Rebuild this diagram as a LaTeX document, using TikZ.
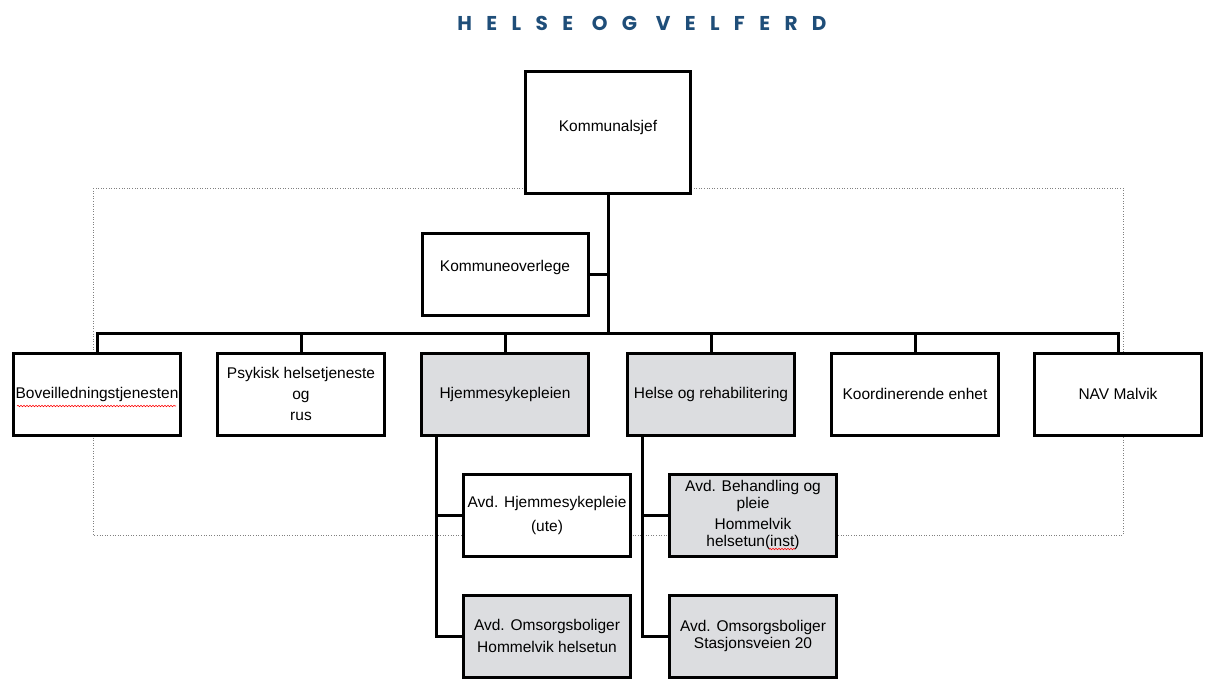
\documentclass[tikz,border=0pt]{standalone}
\usepackage{fontspec}
\setmainfont{Liberation Sans}
\newfontfamily\titlefont[LetterSpace=72]{Poppins}
\usetikzlibrary{decorations.pathmorphing}
\definecolor{titleblue}{HTML}{1F4E79}
\definecolor{unitgray}{HTML}{DCDDE0}
\begin{document}
\begin{tikzpicture}[x=1pt,y=-1pt,line join=miter,
  unit/.style={draw,line width=3pt,fill=white,minimum width=167pt,minimum height=82pt,
    inner sep=1pt,align=center,font=\fontsize{15.5}{22}\selectfont},
  grayunit/.style={unit,fill=unitgray},
  conn/.style={line width=3pt},
  frame/.style={draw=gray,line width=0.6pt,dotted},
  spell/.style={red,line width=0.6pt,decorate,decoration={snake,segment length=3pt,amplitude=0.7pt}}]
  \useasboundingbox (0,0) rectangle (1205,678);
  % title
  \node[text=titleblue,font=\titlefont\bfseries\fontsize{20}{20}\selectfont] (title) at (642,23) {HELSE OG VELFERD};
  % dotted frame
  \draw[frame] (93,188) rectangle (1123,535);
  % top
  \node[unit,minimum width=165pt,minimum height=122pt] (boss) at (608,132) {Kommunalsjef\\[-10pt]};
  \node[unit,minimum width=166pt] (overlege) at (505,274) {Kommuneoverlege\\[-6pt]};
  \coordinate (bus) at (608,333);
  % units
  \node[unit] (bo) at (97,394) {Boveilledningstjenesten};
  \node[unit] (psy) at (301,394) {Psykisk helsetjeneste\\[-1pt]og\\[-1pt]rus};
  \node[grayunit] (hjem) at (505,394) {Hjemmesykepleien};
  \node[grayunit] (helse) at (711,394) {Helse og rehabilitering};
  \node[unit] (koord) at (915,394) {Koordinerende enhet};
  \node[unit] (nav) at (1118,394) {NAV Malvik};
  % sub units
  \node[unit] (avdute) at (547,515) {Avd. Hjemmesykepleie\\[2pt](ute)};
  \node[grayunit,font=\fontsize{15.5}{17}\selectfont] (avdinst) at (753,515) {Avd. Behandling og\\pleie\\[4pt]Hommelvik\\helsetun(inst)};
  \node[grayunit] (omshh) at (547,636) {Avd. Omsorgsboliger\\Hommelvik helsetun};
  \node[grayunit,font=\fontsize{15.5}{17}\selectfont] (omsst) at (753,636) {Avd. Omsorgsboliger\\Stasjonsveien 20};
  % connectors
  \draw[conn] (boss.south) -- (bus);
  \draw[conn] (overlege.east) -- (overlege.east -| bus);
  \draw[conn] (bo.north) |- (bus) -| (nav.north);
  \foreach \u in {psy,hjem,helse,koord}
    \draw[conn] (\u.north) -- (\u.north |- bus);
  \draw[conn] ([xshift=16pt]hjem.south west) |- (avdute.west);
  \draw[conn] ([xshift=16pt]hjem.south west) |- (omshh.west);
  \draw[conn] ([xshift=16pt]helse.south west) |- (avdinst.west);
  \draw[conn] ([xshift=16pt]helse.south west) |- (omsst.west);
  % spelling marks
  \draw[spell] (17,406) -- (176,406);
  \draw[spell] (769,549) -- (795,549);
\end{tikzpicture}
\end{document}
